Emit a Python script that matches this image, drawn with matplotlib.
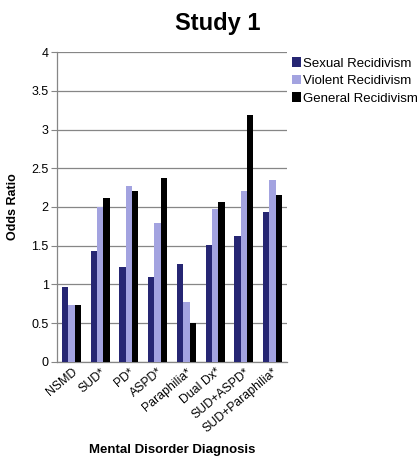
import numpy as np
import matplotlib.pyplot as plt

plt.rcParams['font.family'] = ['Liberation Sans', 'DejaVu Sans']

diagnoses = ["NSMD", "SUD*", "PD*", "ASPD*", "Paraphilia*", "Dual Dx*",
             "SUD+ASPD*", "SUD+Paraphilia*"]
sexual = [0.97, 1.43, 1.22, 1.10, 1.27, 1.51, 1.63, 1.94]
violent = [0.74, 2.00, 2.27, 1.79, 0.77, 1.97, 2.21, 2.35]
general = [0.74, 2.11, 2.21, 2.37, 0.50, 2.06, 3.19, 2.15]

series = [("Sexual Recidivism", sexual, "#262673"),
          ("Violent Recidivism", violent, "#a3a3e0"),
          ("General Recidivism", general, "#000000")]

fig = plt.figure(figsize=(4.17, 4.61), dpi=100)
ax = fig.add_axes([0.137, 0.215, 0.551, 0.672])

x = np.arange(len(diagnoses))
w = 0.22
for i, (name, vals, col) in enumerate(series):
    ax.bar(x + (i - 1) * w, vals, w, color=col, label=name, zorder=3)

ax.set_xlim(-0.5, len(diagnoses) - 0.5)
ax.set_ylim(0, 4)
ax.set_yticks(np.arange(0, 4.01, 0.5))
ax.set_yticklabels(["0", "0.5", "1", "1.5", "2", "2.5", "3", "3.5", "4"])
ax.yaxis.grid(True, color="#868686", linewidth=0.9, zorder=0)
ax.set_xticks(x)
ax.set_xticklabels(diagnoses, rotation=40, ha="right", rotation_mode="anchor")
ax.tick_params(axis="x", length=0, labelsize=8.8, pad=3)
ax.tick_params(axis="y", length=4, color="#868686", labelsize=9, pad=2)
for s in ["top", "right"]:
    ax.spines[s].set_visible(False)
for s in ["left", "bottom"]:
    ax.spines[s].set_color("#868686")
    ax.spines[s].set_linewidth(0.9)

ax.set_ylabel("Odds Ratio", fontsize=9, fontweight="bold")
ax.yaxis.set_label_coords(-0.165, 0.5)
ax.set_xlabel("Mental Disorder Diagnosis", fontsize=9.5, fontweight="bold")
ax.xaxis.set_label_coords(0.5, -0.265)
fig.text(0.522, 0.95, "Study 1", fontsize=17, fontweight="bold", ha="center", va="center")

ax.legend(loc="upper left", bbox_to_anchor=(1.0, 1.0), frameon=False, fontsize=9.5,
          handlelength=0.7, handleheight=0.7, handletextpad=0.15, labelspacing=0.4,
          borderaxespad=0)

fig.savefig("out.png", dpi=100)
